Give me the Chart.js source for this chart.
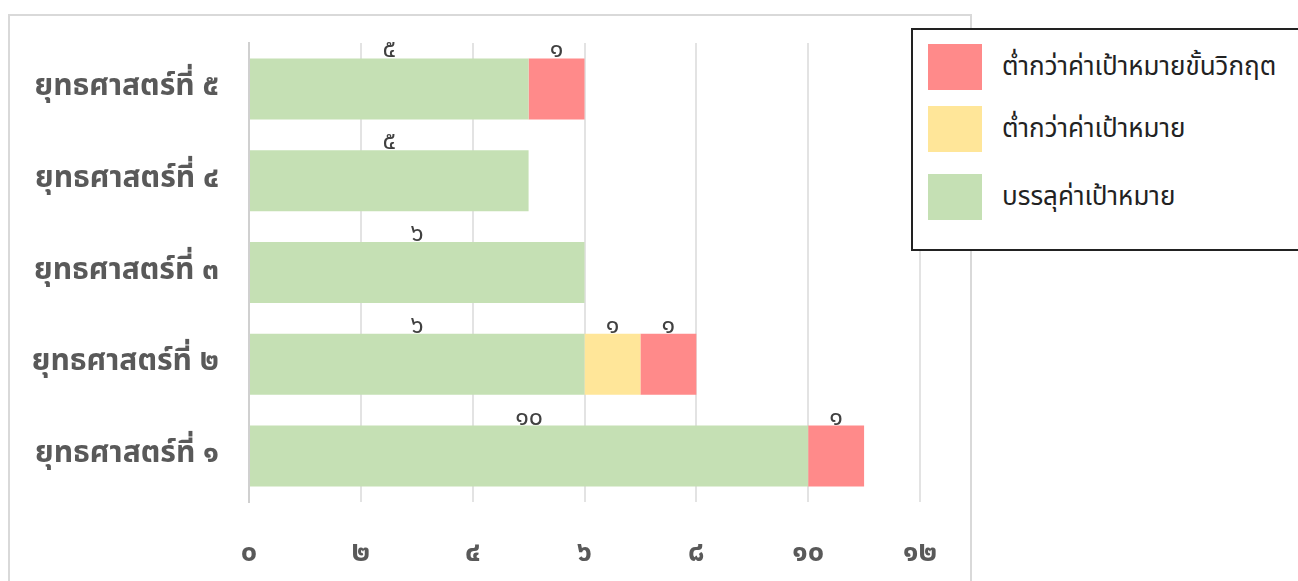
<!DOCTYPE html>
<html>
<head>
<meta charset="utf-8">
<script src="https://cdn.jsdelivr.net/npm/chart.js@4.4.0/dist/chart.umd.min.js"></script>
<style>
  body { margin: 0; background: #fff; overflow: hidden; }
  #wrap { position: relative; width: 1298px; height: 581px; }
  #frame { position: absolute; left: 8px; top: 14px; width: 960px; height: 600px; border: 2px solid #d9d9d9; }
  #chart { position: absolute; left: 0; top: 0; }
  #legend { position: absolute; left: 911px; top: 28px; width: 420px; height: 219px; border: 2px solid #222; background: #fff;
    font-family: "Noto Sans Thai", "Leelawadee UI", Tahoma, sans-serif; }
  .item { position: absolute; left: 15px; height: 46px; }
  .item .sw { position: absolute; left: 0; top: 0; width: 54px; height: 46px; }
  .item .tx { position: absolute; left: 74px; top: 0; line-height: 46px; font-size: 26px; color: #222; white-space: nowrap; }
</style>
</head>
<body>
<div id="wrap">
  <div id="frame"></div>
  <canvas id="chart" width="1298" height="581"></canvas>
  <div id="legend"></div>
</div>
<script>
// categories, top to bottom
const categories = ["ยุทธศาสตร์ที่ ๕", "ยุทธศาสตร์ที่ ๔", "ยุทธศาสตร์ที่ ๓", "ยุทธศาสตร์ที่ ๒", "ยุทธศาสตร์ที่ ๑"];

// series values
const metTarget = [5, 5, 6, 6, 10];
const belowTarget = [null, null, null, 1, null];
const criticalBelow = [1, null, null, 1, 1];

const seriesNames = ["บรรลุค่าเป้าหมาย", "ต่ำกว่าค่าเป้าหมาย", "ต่ำกว่าค่าเป้าหมายขั้นวิกฤต"];
const seriesColors = ["#c5e0b4", "#ffe699", "#ff8a8a"];

const xTickLabels = ["๐", "๒", "๔", "๖", "๘", "๑๐", "๑๒"];
const thaiDigits = ["๐", "๑", "๒", "๓", "๔", "๕", "๖", "๗", "๘", "๙"];

const thaiFont = '"Noto Sans Thai", "Leelawadee UI", Tahoma, sans-serif';

function toThai(n) {
  return String(n).split("").map(function (d) { return thaiDigits[+d] || d; }).join("");
}

// labels drawn above each segment
const barLabels = {
  id: "barLabels",
  afterDatasetsDraw(chart) {
    const ctx = chart.ctx;
    ctx.save();
    ctx.font = "25px " + thaiFont;
    ctx.fillStyle = "#404040";
    ctx.textAlign = "center";
    ctx.textBaseline = "alphabetic";
    chart.data.datasets.forEach(function (ds, i) {
      chart.getDatasetMeta(i).data.forEach(function (bar, j) {
        const v = ds.data[j];
        if (v == null) return;
        const cx = (bar.x + bar.base) / 2;
        const top = bar.y - bar.height / 2;
        ctx.fillText(toThai(v), cx, top - 1);
      });
    });
    ctx.restore();
  }
};

const chart = new Chart(document.getElementById("chart"), {
  type: "bar",
  data: {
    labels: categories,
    datasets: [
      { label: seriesNames[0], data: metTarget, backgroundColor: seriesColors[0] },
      { label: seriesNames[1], data: belowTarget, backgroundColor: seriesColors[1] },
      { label: seriesNames[2], data: criticalBelow, backgroundColor: seriesColors[2] }
    ]
  },
  options: {
    indexAxis: "y",
    responsive: false,
    animation: false,
    categoryPercentage: 1,
    barPercentage: 0.665,
    layout: { padding: { top: 43, right: 378, bottom: 0, left: 0 } },
    scales: {
      x: {
        stacked: true,
        min: 0,
        max: 12,
        afterFit: function (s) { s.height = 79; s.paddingLeft = 0; s.paddingRight = 0; },
        ticks: {
          stepSize: 2,
          padding: 36,
          color: "#595959",
          font: { family: thaiFont, size: 29, weight: "bold" },
          callback: function (v, i) { return xTickLabels[i]; }
        },
        grid: { color: "#e3e3e3", lineWidth: 2, drawTicks: false },
        border: { display: false }
      },
      y: {
        stacked: true,
        afterFit: function (s) { s.width = 249; s.paddingTop = 0; s.paddingBottom = 0; },
        ticks: {
          padding: 30,
          color: "#595959",
          font: { family: thaiFont, size: 30, weight: "bold" }
        },
        grid: { display: false, drawTicks: false },
        border: { display: true, color: "#d0d0d0", width: 2 }
      }
    },
    plugins: {
      legend: { display: false },
      tooltip: { enabled: false }
    }
  },
  plugins: [barLabels]
});

// legend box, reversed order like the original
const legendEl = document.getElementById("legend");
const tops = [14, 76, 144];
[2, 1, 0].forEach(function (k, n) {
  const item = document.createElement("div");
  item.className = "item";
  item.style.top = tops[n] + "px";
  item.innerHTML = '<div class="sw" style="background:' + seriesColors[k] + '"></div><div class="tx">' + seriesNames[k] + "</div>";
  legendEl.appendChild(item);
});
</script>
</body>
</html>
